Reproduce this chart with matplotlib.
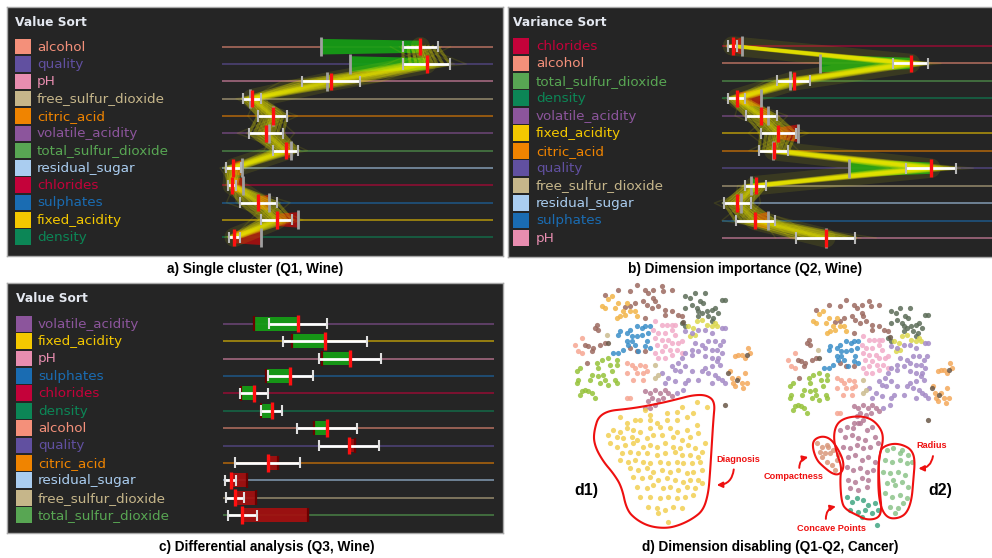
import numpy as np
import matplotlib
matplotlib.use("Agg")
import matplotlib.pyplot as plt
from matplotlib.patches import Rectangle, Polygon, FancyArrowPatch

# dimensions of the wine data set and their colours
DIM_COLORS = {
    'alcohol': '#f4907a',
    'quality': '#6150a0',
    'pH': '#e88db0',
    'free_sulfur_dioxide': '#c6b68a',
    'citric_acid': '#f08400',
    'volatile_acidity': '#8c559c',
    'total_sulfur_dioxide': '#58a653',
    'residual_sugar': '#aacdf0',
    'chlorides': '#c4023a',
    'sulphates': '#1a6cb2',
    'fixed_acidity': '#f4c800',
    'density': '#0c8656',
}

# a) single cluster, sorted by value (positions on a 0-100 scale)
A_DIMS = ['alcohol', 'quality', 'pH', 'free_sulfur_dioxide', 'citric_acid', 'volatile_acidity',
          'total_sulfur_dioxide', 'residual_sugar', 'chlorides', 'sulphates', 'fixed_acidity', 'density']
A_GLOBAL = [36.4, 47.1, 38.7, 10.2, 18.9, 17.5, 25.4, 7.3, 7.7, 17.3, 28.2, 14.4]
A_MEAN = [73.2, 75.5, 40.2, 11.0, 18.7, 16.2, 23.5, 4.2, 3.8, 13.4, 20.2, 4.5]
A_STD = [6.5, 8.6, 10.8, 3.4, 5.4, 6.2, 4.7, 2.9, 1.5, 6.9, 5.7, 2.0]

# b) same cluster, sorted by variance
B_DIMS = ['chlorides', 'alcohol', 'total_sulfur_dioxide', 'density', 'volatile_acidity', 'fixed_acidity',
          'citric_acid', 'quality', 'free_sulfur_dioxide', 'residual_sugar', 'sulphates', 'pH']
B_GLOBAL = [7.6, 36.3, 25.3, 14.5, 17.2, 28.0, 18.9, 47.1, 10.8, 7.1, 17.2, 38.4]
B_MEAN = [4.0, 69.7, 26.6, 5.5, 14.6, 20.9, 19.2, 77.2, 12.5, 5.8, 12.3, 38.4]
B_STD = [1.8, 6.6, 6.1, 3.1, 5.7, 6.5, 5.4, 9.2, 3.9, 5.0, 7.2, 10.9]

# c) differential analysis between two selections
C_DIMS = ['volatile_acidity', 'fixed_acidity', 'pH', 'sulphates', 'chlorides', 'density', 'alcohol',
          'quality', 'citric_acid', 'residual_sugar', 'free_sulfur_dioxide', 'total_sulfur_dioxide']
C_GLOBAL = [11.6, 25.6, 36.7, 15.8, 6.6, 14.1, 33.7, 48.7, 20.2, 8.9, 12.3, 31.5]
C_MEAN = [27.6, 37.7, 46.9, 24.9, 11.6, 18.0, 38.5, 46.5, 16.6, 2.9, 4.5, 7.2]
C_STD = [10.7, 15.5, 11.4, 8.2, 5.2, 4.0, 11.0, 10.9, 11.9, 2.0, 3.4, 5.3]

# d) projection of the cancer data set (embedding units)
TOP_BROWN = [(120, 35), (160, 20), (195, 25), (215, 5), (240, 20), (250, 30), (265, 20), (290, 10), (295, 25),
             (320, 22), (235, 55), (245, 65), (265, 45), (280, 70), (300, 80), (320, 85), (338, 95), (350, 100),
             (300, 95), (240, 105), (260, 75), (195, 70), (180, 72), (270, 55), (210, 60), (95, 125), (90, 135),
             (100, 140), (60, 185), (70, 190), (85, 195), (105, 185), (120, 180), (80, 205), (65, 240),
             (195, 195), (215, 205), (240, 205)]
TOP_GOLD = [(130, 48), (140, 40), (110, 70), (120, 75), (150, 75), (160, 60), (175, 85), (180, 95), (195, 85),
            (155, 105), (165, 100), (210, 85), (215, 100), (185, 60)]
TOP_SLATE = [(360, 40), (375, 45), (390, 30), (420, 30), (380, 65), (395, 75), (400, 85), (410, 90), (425, 85),
             (440, 80), (450, 75), (460, 90), (430, 100), (445, 105), (470, 50), (480, 50), (405, 55), (415, 60),
             (360, 75), (350, 120), (360, 130), (440, 115), (400, 100)]
TOP_KHAKI = [(370, 130), (385, 135), (395, 115), (410, 110), (425, 125), (440, 130), (450, 120), (455, 130),
             (375, 160), (390, 155)]
TOP_BLUE = [(165, 145), (160, 155), (185, 150), (195, 140), (215, 130), (230, 135), (240, 130), (255, 130),
            (200, 160), (215, 160), (230, 155), (250, 150), (185, 175), (200, 175), (210, 185), (190, 185),
            (240, 190), (245, 175), (160, 210), (175, 200), (220, 205), (145, 210), (255, 195)]
TOP_PINK = [(270, 115), (290, 125), (305, 125), (320, 125), (330, 125), (265, 140), (280, 150), (300, 150),
            (320, 140), (330, 155), (270, 165), (290, 170), (310, 170), (320, 180), (340, 180), (350, 175),
            (275, 185), (300, 190), (315, 200), (335, 200), (350, 210), (290, 205), (320, 215), (270, 210),
            (300, 225), (280, 225)]
TOP_PURPLE = [(360, 145), (380, 150), (400, 140), (420, 140), (440, 150), (470, 135), (480, 135), (390, 180),
              (410, 185), (430, 175), (450, 175), (465, 185), (475, 175), (380, 200), (400, 205), (420, 195),
              (440, 200), (455, 200), (470, 210), (380, 215), (360, 210), (350, 225), (420, 220), (440, 225),
              (460, 225), (455, 235), (465, 245), (440, 250), (420, 255), (410, 265), (430, 270), (450, 275),
              (460, 285), (470, 290), (480, 300), (440, 300), (400, 290), (380, 265), (360, 250), (340, 240),
              (330, 260), (345, 265), (320, 250), (310, 285), (290, 270), (300, 300), (330, 295), (360, 300),
              (355, 320), (335, 330), (370, 290)]
TOP_MAUVE = [(240, 325), (255, 330), (270, 320), (285, 330), (300, 320), (260, 345), (280, 350), (295, 345),
             (250, 355), (270, 365), (255, 375), (240, 375), (320, 340), (310, 330)]
TOP_SALMON = [(30, 185), (50, 165), (50, 210), (40, 205), (185, 240), (200, 245), (210, 255), (225, 245),
              (235, 270), (215, 270), (245, 265), (240, 250), (205, 290), (185, 270), (235, 290), (185, 345),
              (195, 345)]
TOP_GREEN = [(35, 265), (45, 255), (40, 290), (35, 300), (50, 325), (45, 335), (60, 320), (80, 330), (90, 345),
             (70, 325), (95, 240), (100, 255), (110, 230), (130, 225), (135, 245), (155, 230), (155, 245),
             (140, 265), (120, 290), (100, 280), (105, 300), (130, 305), (150, 290), (155, 300), (115, 275),
             (80, 275), (75, 290)]
TOP_ORANGE = [(510, 220), (520, 215), (550, 195), (555, 210), (540, 225), (530, 215), (495, 265), (520, 285),
              (530, 300), (510, 310), (535, 315), (545, 300), (500, 285), (505, 300), (540, 270)]
TOP_DARK = [(545, 215), (490, 270), (515, 290), (130, 180), (355, 118), (480, 365)]
TOP_TAN = [(125, 155), (270, 245), (280, 275), (270, 285)]

DIAGNOSIS = [(440, 365), (470, 380), (395, 380), (380, 395), (350, 400), (430, 400), (410, 410), (285, 390),
             (300, 405), (210, 410), (255, 420), (230, 430), (270, 420), (300, 420), (320, 430), (350, 420),
             (380, 420), (440, 435), (190, 450), (210, 455), (230, 445), (250, 450), (270, 455), (300, 445),
             (330, 440), (360, 445), (380, 455), (410, 450), (175, 465), (200, 470), (220, 475), (245, 470),
             (260, 480), (290, 475), (310, 465), (335, 465), (370, 470), (395, 480), (420, 470), (445, 460),
             (465, 490), (180, 490), (200, 500), (225, 495), (250, 490), (280, 500), (300, 495), (320, 500),
             (345, 490), (370, 500), (390, 505), (415, 495), (435, 505), (455, 515), (215, 520), (240, 515),
             (265, 520), (290, 520), (320, 525), (345, 520), (375, 515), (395, 525), (420, 525), (445, 530),
             (210, 540), (235, 545), (255, 540), (280, 545), (300, 550), (330, 545), (355, 550), (380, 545),
             (400, 550), (425, 550), (450, 545), (240, 565), (265, 570), (290, 565), (310, 575), (335, 570),
             (360, 575), (385, 570), (410, 580), (430, 575), (455, 570), (250, 590), (275, 595), (300, 590),
             (325, 600), (350, 595), (375, 600), (400, 605), (420, 600), (445, 600), (260, 620), (290, 625),
             (310, 615), (340, 625), (360, 620), (385, 630), (410, 620), (435, 625), (455, 610), (270, 650),
             (300, 650), (330, 655), (355, 650), (380, 655), (405, 650), (430, 645), (295, 680), (320, 685),
             (345, 690), (370, 680), (395, 685), (325, 700), (355, 725)]
COMPACTNESS = [(800, 490), (815, 500), (830, 495), (810, 515), (825, 520), (840, 520), (850, 510), (860, 540),
               (845, 555), (830, 545), (815, 530), (855, 570), (835, 500), (865, 525)]
CONCAVE_UPPER = [(870, 450), (890, 440), (910, 445), (930, 430), (950, 450), (965, 440), (885, 470), (905, 465),
                 (925, 475), (945, 480), (975, 470), (880, 500), (900, 505), (920, 495), (940, 505), (960, 500),
                 (985, 490), (895, 530), (915, 525), (935, 540), (955, 530), (975, 545), (890, 560), (910, 570),
                 (930, 565), (950, 575), (970, 570), (895, 600), (915, 605), (935, 595), (955, 600), (900, 625),
                 (925, 630), (950, 620)]
CONCAVE_LOWER = [(890, 650), (905, 665), (920, 655), (940, 660), (955, 675), (975, 670), (900, 690), (925, 695),
                 (945, 690), (965, 700), (985, 690), (935, 710), (980, 735)]
RADIUS = [(1010, 510), (1030, 505), (1055, 510), (1075, 525), (1005, 540), (1025, 545), (1050, 540), (1070, 550),
          (1085, 545), (1000, 575), (1020, 580), (1045, 575), (1065, 585), (1010, 610), (1035, 615), (1055, 605),
          (1075, 620), (1005, 640), (1025, 650), (1050, 645), (1070, 655), (1020, 680), (1045, 685), (1060, 670),
          (1035, 700), (1050, 520), (1030, 600)]

OUTLINE_DIAGNOSIS = [(130, 460), (150, 395), (250, 385), (330, 370), (380, 358), (430, 345), (470, 345), (495, 365),
                     (490, 420), (485, 500), (480, 580), (475, 640), (460, 690), (430, 715), (390, 735), (350, 745),
                     (300, 740), (260, 720), (230, 690), (215, 620), (190, 580), (160, 545), (135, 500)]
OUTLINE_COMPACTNESS = [(790, 480), (815, 468), (840, 475), (860, 500), (880, 540), (880, 570), (865, 585),
                       (845, 580), (820, 560), (800, 540), (788, 505)]
OUTLINE_CONCAVE = [(860, 430), (890, 412), (935, 408), (970, 420), (995, 450), (1000, 480), (990, 520), (985, 560),
                   (990, 640), (995, 690), (985, 715), (950, 720), (920, 705), (890, 690), (875, 670), (870, 600),
                   (875, 560), (860, 520), (850, 470)]
OUTLINE_RADIUS = [(1000, 500), (1030, 490), (1060, 495), (1085, 510), (1095, 540), (1090, 600), (1085, 660),
                  (1070, 700), (1045, 715), (1015, 715), (995, 690), (985, 640), (985, 560), (990, 515)]

W, H = 992, 558
BG = '#252525'
fig = plt.figure(figsize=(W / 100, H / 100), dpi=100)
fig.patch.set_facecolor('white')

CAPTION_FONT = dict(family=['Liberation Sans Narrow', 'Liberation Sans'], fontweight='bold', fontsize=9.8)


def fig_text(px, py, s, **kw):
    fig.text(px / W, 1 - py / H, s, **kw)


def draw_bundle(ax, m, s):
    # yellow polylines of the cluster members running across the sorted rows
    m = np.asarray(m)
    s = np.asarray(s)
    rows = np.arange(len(m))
    spread = [-1.0, -0.7, -0.45, -0.25, -0.1, 0.0, 0.1, 0.25, 0.45, 0.7, 1.0]
    n = len(spread)
    ax.plot(m, rows, color='#f0f000', alpha=0.1, lw=14, solid_capstyle='round', zorder=3)
    for f in spread:
        ax.plot(m + f * s, rows, color='#f0ec00', alpha=0.3, lw=2.2, zorder=3)
    for j in range(n):
        fs = np.array([spread[(j * 3 + i * 4) % n] for i in rows])
        ax.plot(m + fs * s * 1.7, rows, color='#e0dc00', alpha=0.12, lw=1, zorder=3)


def dim_panel(rect, line_x, row_y0, row_dy, title, dims, g, m, s, box_h, bundle, square_x, label_x, title_pos):
    L, T, R, B = rect
    X0, X1 = line_x

    def val(px):
        return (px - X0) / (X1 - X0) * 100

    def row(py):
        return (py - row_y0) / row_dy

    ax = fig.add_axes([L / W, 1 - B / H, (R - L) / W, (B - T) / H])
    ax.set_xlim(val(L), val(R))
    ax.set_ylim(row(B), row(T))
    ax.set_facecolor(BG)
    ax.set_xticks([])
    ax.set_yticks([])
    for sp in ax.spines.values():
        sp.set_color('#a8a8a8')
        sp.set_linewidth(1)

    ax.text(val(title_pos[0]), row(title_pos[1]), title, color='#e4e8f0', fontsize=8.8,
            fontweight='bold', va='center', ha='left')

    sq_w = val(square_x + 16) - val(square_x)
    for i, d in enumerate(dims):
        c = DIM_COLORS[d]
        ax.add_patch(Rectangle((val(square_x), i - 0.45), sq_w, 0.9, facecolor=c, edgecolor='none'))
        ax.text(val(label_x), i + 0.02, d, color=c, fontsize=9.7, va='center', ha='left')
        ax.hlines(i, 0, 100, color=c, alpha=0.55, lw=1.4, zorder=1)

    for i in range(len(dims)):
        gi, mi, si = g[i], m[i], s[i]
        col = '#15a015' if mi > gi else '#a51010'
        hg, hm = box_h
        ax.add_patch(Polygon([(gi, i - hg / 2), (mi, i - hm / 2), (mi, i + hm / 2), (gi, i + hg / 2)],
                             closed=True, facecolor=col, edgecolor='none', alpha=0.92, zorder=2))

    if bundle:
        draw_bundle(ax, m, s)

    diff = not bundle
    for i in range(len(dims)):
        gi, mi, si = g[i], m[i], s[i]
        if diff:
            ax.vlines(gi, i - 0.42, i + 0.42, color='#6a0000', lw=1.6, zorder=4)
        else:
            ax.vlines(gi, i - 0.55, i + 0.55, color='#a0a0a0', lw=2, zorder=4)
        ax.hlines(i, mi - si, mi + si, color='white', lw=2, zorder=5)
        ax.vlines([mi - si, mi + si], i - 0.32, i + 0.32, color='#e0e0e0' if diff else '#b8b8b8',
                  lw=1.5, zorder=5)
        ax.vlines(mi, i - 0.5, i + 0.5, color='#ff1010', lw=2.4, zorder=6)
    return ax


dim_panel((7, 7, 503, 256), (222, 493), 46.7, 17.32, 'Value Sort', A_DIMS, A_GLOBAL, A_MEAN, A_STD,
          (0.9, 0.7), True, 15, 37, (15, 22))
dim_panel((508, 7, 993, 257), (721.7, 992.7), 46.0, 17.45, 'Variance Sort', B_DIMS, B_GLOBAL, B_MEAN, B_STD,
          (1.0, 0.65), True, 513, 536, (513, 22))
dim_panel((7, 283, 503, 533), (222.7, 494.3), 323.7, 17.4, 'Value Sort', C_DIMS, C_GLOBAL, C_MEAN, C_STD,
          (0.8, 0.8), False, 16, 38, (16, 299))


def chaikin(pts, it=4):
    p = np.asarray(pts, dtype=float)
    for _ in range(it):
        q = np.roll(p, -1, axis=0)
        p = np.column_stack([0.75 * p + 0.25 * q, 0.25 * p + 0.75 * q]).reshape(-1, 2)
    return p


# d) scatter panel, coordinates in embedding units
axd = fig.add_axes([550 / W, 1 - 540 / H, 442 / W, 260 / H])
axd.set_xlim(0, 1326)
axd.set_ylim(780, 0)
axd.axis('off')

DOT = 14
top_groups = [(TOP_BROWN, '#9c6a60'), (TOP_GOLD, '#f2b448'), (TOP_SLATE, '#5c6c58'), (TOP_KHAKI, '#dcd84c'),
              (TOP_BLUE, '#3a8ec8'), (TOP_PINK, '#f2abc8'), (TOP_PURPLE, '#a48ac6'), (TOP_MAUVE, '#b57c96'),
              (TOP_SALMON, '#f6a692'), (TOP_GREEN, '#96c23a'), (TOP_ORANGE, '#f4a85a'), (TOP_DARK, '#6a5848'),
              (TOP_TAN, '#cbbb8e')]
for pts, c in top_groups:
    a = np.array(pts, dtype=float)
    # left projection
    axd.scatter(a[:, 0] + 45, a[:, 1] + 9, s=DOT, color=c, alpha=0.85, linewidths=0)
    # right projection (dimensions disabled)
    axd.scatter((a[:, 0] + 45) * 0.934 + 645, a[:, 1] + 54, s=DOT, color=c, alpha=0.85, linewidths=0)

for pts, c in [(DIAGNOSIS, '#f2cf52'), (COMPACTNESS, '#d9977a'), (CONCAVE_UPPER, '#b47a96'),
               (CONCAVE_LOWER, '#42a683'), (RADIUS, '#8cc48a')]:
    a = np.array(pts, dtype=float)
    axd.scatter(a[:, 0], a[:, 1], s=DOT, color=c, alpha=0.85, linewidths=0)

for outline in [OUTLINE_DIAGNOSIS, OUTLINE_COMPACTNESS, OUTLINE_CONCAVE, OUTLINE_RADIUS]:
    axd.add_patch(Polygon(chaikin(outline), closed=True, fill=False, edgecolor='#ee1010', lw=1.5))

RED = '#ee1010'
notes = [('Diagnosis', (500, 538), (552, 560), (492, 615), -0.5),
         ('Compactness', (640, 590), (748, 572), (783, 530), -0.5),
         ('Radius', (1100, 498), (1150, 520), (1097, 565), -0.5),
         ('Concave Points', (740, 745), (828, 725), (866, 678), -0.5)]
for label, tpos, a0, a1, rad in notes:
    axd.text(tpos[0], tpos[1], label, color=RED, fontsize=6.6, fontweight='bold',
             family='Liberation Sans', va='center', ha='left')
    axd.add_patch(FancyArrowPatch(a0, a1, connectionstyle=f'arc3,rad={rad}', arrowstyle='-|>',
                                  mutation_scale=8, color=RED, lw=1.4))

axd.text(108, 632, 'd1)', fontsize=11.5, fontweight='bold', family='Liberation Sans', ha='center', va='center')
axd.text(1170, 632, 'd2)', fontsize=11.5, fontweight='bold', family='Liberation Sans', ha='center', va='center')

fig_text(255, 269, 'a) Single cluster (Q1, Wine)', ha='center', va='center', **CAPTION_FONT)
fig_text(745, 269, 'b) Dimension importance (Q2, Wine)', ha='center', va='center', **CAPTION_FONT)
fig_text(267, 547, 'c) Differential analysis (Q3, Wine)', ha='center', va='center', **CAPTION_FONT)
fig_text(770, 547, 'd) Dimension disabling (Q1-Q2, Cancer)', ha='center', va='center', **CAPTION_FONT)

fig.savefig('out.png', dpi=100, facecolor='white')
